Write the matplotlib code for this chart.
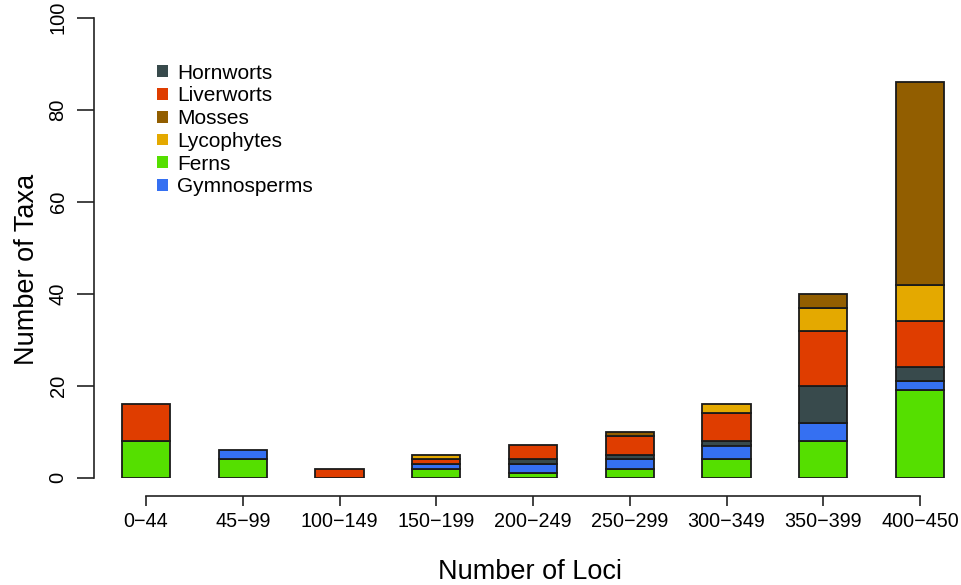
import matplotlib
matplotlib.use("Agg")
import matplotlib.pyplot as plt
from matplotlib.patches import Patch
import numpy as np

plt.rcParams['font.family'] = ['Liberation Sans', 'DejaVu Sans']

categories = ["0\u221244", "45\u221299", "100\u2212149", "150\u2212199", "200\u2212249",
              "250\u2212299", "300\u2212349", "350\u2212399", "400\u2212450"]

# stacked bottom -> top
ferns       = [8, 4, 0, 2, 1, 2, 4, 8, 19]
gymnosperms = [0, 2, 0, 1, 2, 2, 3, 4, 2]
hornworts   = [0, 0, 0, 0, 1, 1, 1, 8, 3]
liverworts  = [8, 0, 2, 1, 3, 4, 6, 12, 10]
lycophytes  = [0, 0, 0, 1, 0, 0, 2, 5, 8]
mosses      = [0, 0, 0, 0, 0, 1, 0, 3, 44]

series = [("Ferns", ferns, "#55DF00"),
          ("Gymnosperms", gymnosperms, "#3570F2"),
          ("Hornworts", hornworts, "#384A4C"),
          ("Liverworts", liverworts, "#DF3D00"),
          ("Lycophytes", lycophytes, "#E4A900"),
          ("Mosses", mosses, "#925E00")]

legend_order = ["Hornworts", "Liverworts", "Mosses", "Lycophytes", "Ferns", "Gymnosperms"]

W, H = 961, 585
fig = plt.figure(figsize=(W / 100, H / 100), dpi=100)
left_px, right_px, top_px, bot_px = 94, 960, 17.7, 477.7
ax = fig.add_axes([left_px / W, 1 - bot_px / H, (right_px - left_px) / W, (bot_px - top_px) / H])

x = np.arange(len(categories))
bottom = np.zeros(len(categories))
colors = {}
for name, vals, col in series:
    vals = np.array(vals, dtype=float)
    mask = vals > 0
    ax.bar(x[mask], vals[mask], width=0.5, bottom=bottom[mask], color=col,
           edgecolor="#1a1a1a", linewidth=1.3, zorder=3)
    bottom += vals
    colors[name] = col

px_per_unit = 96.75
x0_px = 146
ax.set_xlim((left_px - x0_px) / px_per_unit, (right_px - x0_px) / px_per_unit)
ax.set_ylim(0, 100)

for s in ["top", "right"]:
    ax.spines[s].set_visible(False)
ax.spines["left"].set_bounds(0, 100)
ax.spines["bottom"].set_bounds(0, len(categories) - 1)
ax.spines["bottom"].set_position(("outward", 13.2))
for s in ["left", "bottom"]:
    ax.spines[s].set_linewidth(1.2)
    ax.spines[s].set_color("#222222")

ax.set_xticks(x)
ax.set_xticklabels(categories, fontsize=14.2)
ax.set_yticks([0, 20, 40, 60, 80, 100])
ax.set_yticklabels(["0", "20", "40", "60", "80", "100"], fontsize=14.5, rotation=90, va="center")
ax.tick_params(axis="x", length=7.2, width=1.2, color="#222222", pad=4)
ax.tick_params(axis="y", length=12, width=1.2, color="#222222", pad=7)

fig.text(530 / W, 1 - 572 / H, "Number of Loci", fontsize=19.5, ha="center", va="center")
fig.text(27 / W, 1 - 269 / H, "Number of Taxa", fontsize=19.5, ha="center", va="center", rotation=90)

handles = [Patch(facecolor=colors[n], edgecolor="none") for n in legend_order]
leg = ax.legend(handles, legend_order, loc="upper left",
                bbox_to_anchor=(153 / W, 1 - 59.5 / H), bbox_transform=fig.transFigure,
                frameon=False, fontsize=15, handlelength=0.5, handleheight=0.5,
                handletextpad=0.45, labelspacing=0.18, borderpad=0.2, borderaxespad=0)

fig.savefig("out.png", dpi=100)
